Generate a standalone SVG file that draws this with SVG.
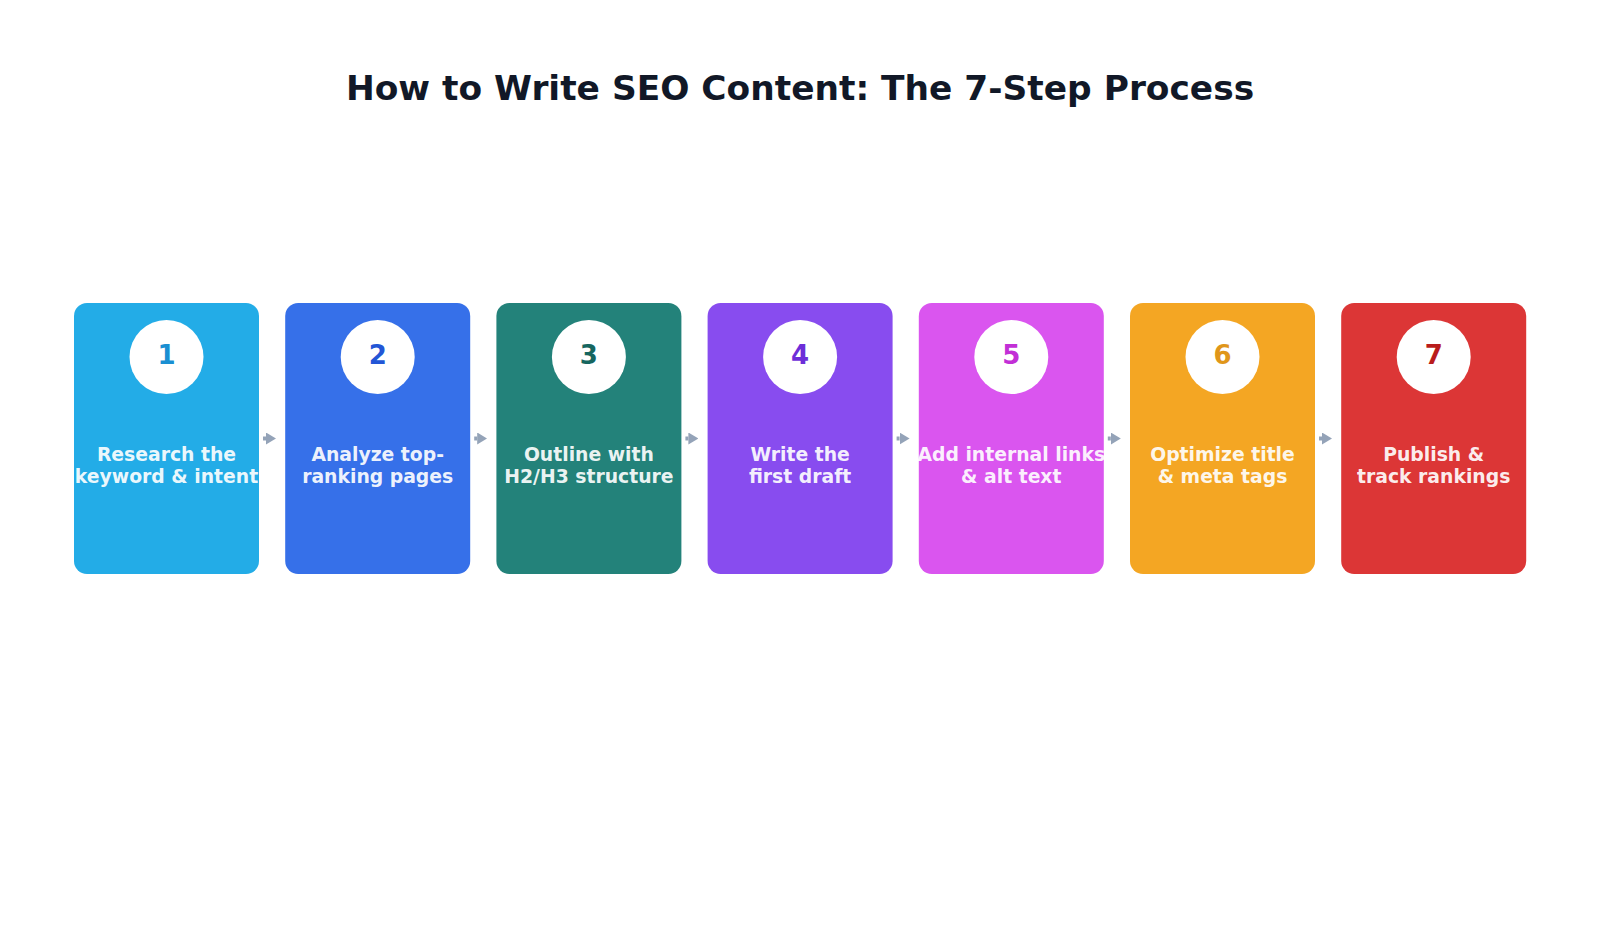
<svg xmlns="http://www.w3.org/2000/svg" width="1600" height="945" viewBox="0 0 1600 945">
<style>
.title{font-family:"DejaVu Sans","Liberation Sans",sans-serif;font-weight:bold;font-size:34.4px;fill:#111827;text-anchor:middle}
.card{stroke:none}
.badge{fill:#ffffff}
.num{font-family:"DejaVu Sans","Liberation Sans",sans-serif;font-weight:bold;font-size:26px;text-anchor:middle}
.lbl{font-family:"DejaVu Sans","Liberation Sans",sans-serif;font-weight:bold;font-size:18.8px;fill:#ffffff;fill-opacity:0.93;text-anchor:middle}
.conn{stroke:#94a3b8;stroke-width:4;fill:none}
</style>
<defs>
<marker id="ah" markerWidth="10" markerHeight="12" refX="0" refY="6" orient="auto" markerUnits="userSpaceOnUse">
<polygon points="0,0 10,6 0,12" fill="#94a3b8"/>
</marker>
</defs>
<rect width="1600" height="945" fill="#ffffff"/>
<text class="title" x="800" y="100">How to Write SEO Content: The 7-Step Process</text>
<g id="connectors">
<line class="conn" x1="263" y1="438.5" x2="266" y2="438.5" marker-end="url(#ah)"/>
<line class="conn" x1="474.2" y1="438.5" x2="477.2" y2="438.5" marker-end="url(#ah)"/>
<line class="conn" x1="685.4" y1="438.5" x2="688.4" y2="438.5" marker-end="url(#ah)"/>
<line class="conn" x1="896.6" y1="438.5" x2="899.6" y2="438.5" marker-end="url(#ah)"/>
<line class="conn" x1="1107.8" y1="438.5" x2="1110.8" y2="438.5" marker-end="url(#ah)"/>
<line class="conn" x1="1319" y1="438.5" x2="1322" y2="438.5" marker-end="url(#ah)"/>
</g>
<g id="step1">
<rect class="card" x="74" y="303" width="185" height="271" rx="13" fill="#23ACE7"/>
<circle class="badge" cx="166.5" cy="357" r="37"/>
<text class="num" x="166.5" y="364" fill="#1a8fd2">1</text>
<text class="lbl" x="166.5" y="461">Research the</text>
<text class="lbl" x="166.5" y="483">keyword &amp; intent</text>
</g>
<g id="step2">
<rect class="card" x="285.2" y="303" width="185" height="271" rx="13" fill="#3670E9"/>
<circle class="badge" cx="377.7" cy="357" r="37"/>
<text class="num" x="377.7" y="364" fill="#2356d6">2</text>
<text class="lbl" x="377.7" y="461">Analyze top-</text>
<text class="lbl" x="377.7" y="483">ranking pages</text>
</g>
<g id="step3">
<rect class="card" x="496.4" y="303" width="185" height="271" rx="13" fill="#23827A"/>
<circle class="badge" cx="588.9" cy="357" r="37"/>
<text class="num" x="588.9" y="364" fill="#16665f">3</text>
<text class="lbl" x="588.9" y="461">Outline with</text>
<text class="lbl" x="588.9" y="483">H2/H3 structure</text>
</g>
<g id="step4">
<rect class="card" x="707.6" y="303" width="185" height="271" rx="13" fill="#884CEF"/>
<circle class="badge" cx="800.1" cy="357" r="37"/>
<text class="num" x="800.1" y="364" fill="#6d2ed8">4</text>
<text class="lbl" x="800.1" y="461">Write the</text>
<text class="lbl" x="800.1" y="483">first draft</text>
</g>
<g id="step5">
<rect class="card" x="918.8" y="303" width="185" height="271" rx="13" fill="#DA55EF"/>
<circle class="badge" cx="1011.3" cy="357" r="37"/>
<text class="num" x="1011.3" y="364" fill="#c22fd6">5</text>
<text class="lbl" x="1011.3" y="461">Add internal links</text>
<text class="lbl" x="1011.3" y="483">&amp; alt text</text>
</g>
<g id="step6">
<rect class="card" x="1130" y="303" width="185" height="271" rx="13" fill="#F4A623"/>
<circle class="badge" cx="1222.5" cy="357" r="37"/>
<text class="num" x="1222.5" y="364" fill="#e0961a">6</text>
<text class="lbl" x="1222.5" y="461">Optimize title</text>
<text class="lbl" x="1222.5" y="483">&amp; meta tags</text>
</g>
<g id="step7">
<rect class="card" x="1341.2" y="303" width="185" height="271" rx="13" fill="#DC3636"/>
<circle class="badge" cx="1433.7" cy="357" r="37"/>
<text class="num" x="1433.7" y="364" fill="#b91c1c">7</text>
<text class="lbl" x="1433.7" y="461">Publish &amp;</text>
<text class="lbl" x="1433.7" y="483">track rankings</text>
</g>
</svg>
